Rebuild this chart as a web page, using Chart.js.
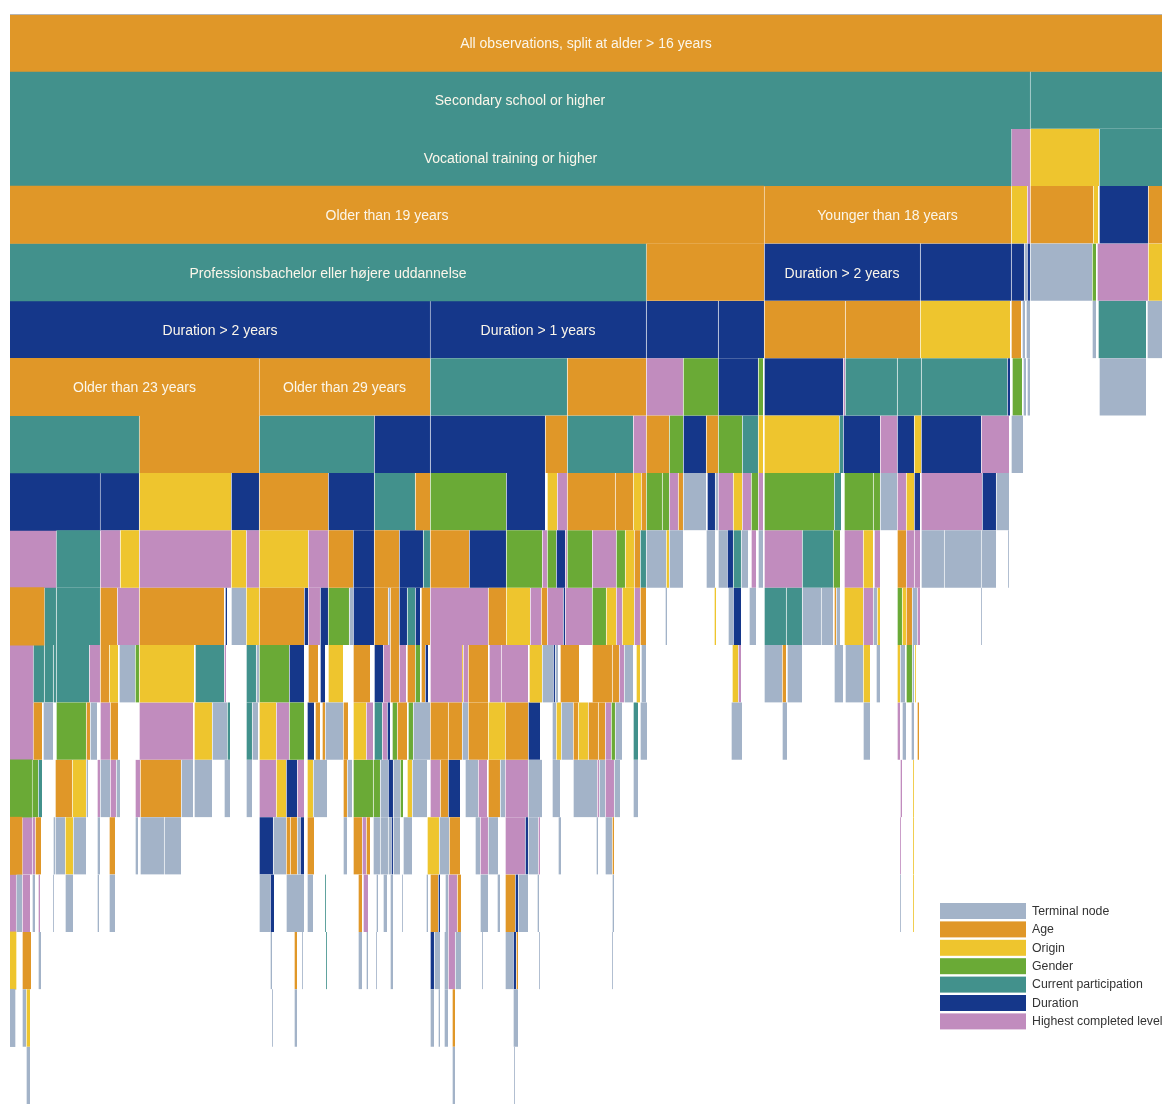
<!DOCTYPE html>
<html>
<head>
<meta charset="utf-8">
<title>Decision tree icicle</title>
<script src="https://cdn.jsdelivr.net/npm/chart.js@4/dist/chart.umd.min.js"></script>
<style>
  html, body { margin: 0; padding: 0; background: #ffffff; }
  #wrap { position: relative; width: 1163px; height: 1104px; }
</style>
</head>
<body>
<div id="wrap"><canvas id="treeChart"></canvas></div>
<script>
// Node types (split variable) and their colours, in legend order.
var typeCodes = ["T", "A", "O", "G", "C", "D", "H"];
var typeNames = ["Terminal node", "Age", "Origin", "Gender", "Current participation", "Duration", "Highest completed level"];
var typeColors = ["#a3b3c8", "#e09728", "#eec52e", "#6aaa36", "#42918c", "#15378a", "#c18cbe"];

// Total number of observations on the x axis (share of the sample, width of the root node).
var totalObs = 1152;

// One list per depth of the tree: [from, to, type, label].
var level0 = [[0, 1152, "A", "All observations, split at alder > 16 years"]];
var level1 = [[0, 1020, "C", "Secondary school or higher"], [1020, 1152, "C"]];
var level2 = [[0, 1001, "C", "Vocational training or higher"], [1001, 1020, "H"], [1020, 1089, "O"], [1089, 1152, "C"]];
var level3 = [[0, 754, "A", "Older than 19 years"], [754, 1001, "A", "Younger than 18 years"], [1001, 1017, "O"], [1017, 1020, "H"],
  [1020, 1083, "A"], [1083, 1088, "O"], [1089, 1138, "D"], [1138, 1152, "A"]];
var level4 = [[0, 636, "C", "Professionsbachelor eller højere uddannelse"], [636, 754, "A"], [754, 910, "D", "Duration > 2 years"],
  [910, 1001, "D"], [1001, 1014, "D"], [1014, 1017, "T"], [1017, 1020, "D"], [1020, 1082, "T"], [1082, 1086, "G"],
  [1087, 1138, "H"], [1138, 1152, "O"]];
var level5 = [[0, 420, "D", "Duration > 2 years"], [420, 636, "D", "Duration > 1 years"], [636, 708, "D"], [708, 754, "D"],
  [754, 835, "A"], [835, 910, "A"], [910, 1000, "O"], [1001, 1011, "A"], [1012, 1015, "T"], [1016, 1020, "T"],
  [1082, 1086, "T"], [1088, 1136, "C"], [1137, 1152, "T"]];
var level6 = [[0, 249, "A", "Older than 23 years"], [249, 420, "A", "Older than 29 years"], [420, 557, "C"], [557, 636, "A"],
  [636, 673, "H"], [673, 708, "G"], [708, 748, "D"], [748, 753, "G"], [754, 833, "D"], [833, 835, "H"], [835, 887, "C"],
  [887, 911, "C"], [911, 997, "C"], [997, 1000, "D"], [1002, 1012, "G"], [1013, 1016, "T"], [1017, 1020, "T"], [1089, 1136, "T"]];
var level7 = [[0, 129, "C"], [129, 249, "A"], [249, 364, "C"], [364, 420, "D"], [420, 535, "D"], [535, 557, "A"], [557, 623, "C"],
  [623, 636, "H"], [636, 659, "A"], [659, 673, "G"], [673, 696, "D"], [696, 708, "A"], [708, 732, "G"], [732, 748, "C"],
  [748, 753, "O"], [754, 829, "O"], [829, 833, "C"], [833, 870, "D"], [870, 887, "H"], [887, 904, "D"], [904, 911, "O"],
  [911, 971, "D"], [971, 999, "H"], [1001, 1013, "T"]];
var level8 = [[0, 90, "D"], [90, 129, "D"], [129, 221, "O"], [221, 249, "D"], [249, 318, "A"], [318, 364, "D"], [364, 405, "C"],
  [405, 420, "A"], [420, 496, "G"], [496, 535, "D"], [537, 547, "O"], [547, 557, "H"], [557, 605, "A"], [605, 623, "A"],
  [623, 631, "O"], [631, 636, "A"], [636, 652, "G"], [652, 659, "G"], [659, 668, "H"], [668, 673, "A"], [673, 696, "T"],
  [697, 705, "D"], [705, 708, "T"], [708, 723, "H"], [723, 732, "O"], [732, 741, "H"], [741, 748, "G"], [748, 753, "H"],
  [754, 824, "G"], [824, 831, "C"], [834, 863, "G"], [863, 870, "G"], [870, 887, "T"], [887, 896, "H"], [896, 904, "O"],
  [904, 910, "D"], [911, 972, "H"], [972, 986, "D"], [986, 999, "T"]];
var level9 = [[0, 46, "H"], [46, 90, "C"], [90, 110, "H"], [110, 129, "O"], [129, 221, "H"], [221, 236, "O"], [236, 249, "H"],
  [249, 298, "O"], [298, 318, "H"], [318, 343, "A"], [343, 364, "D"], [364, 389, "A"], [389, 413, "D"], [413, 420, "C"],
  [420, 459, "A"], [459, 496, "D"], [496, 532, "G"], [532, 537, "H"], [537, 546, "G"], [546, 555, "D"], [555, 557, "H"],
  [557, 582, "G"], [582, 606, "H"], [606, 615, "G"], [615, 624, "O"], [624, 630, "A"], [630, 636, "C"], [636, 656, "T"],
  [656, 659, "O"], [659, 673, "T"], [696, 705, "T"], [708, 717, "T"], [717, 723, "D"], [723, 731, "C"], [731, 738, "T"],
  [741, 746, "H"], [748, 753, "T"], [754, 792, "H"], [792, 823, "C"], [823, 830, "G"], [834, 853, "H"], [853, 863, "O"],
  [864, 870, "H"], [887, 896, "A"], [896, 904, "H"], [904, 910, "H"], [911, 934, "T"], [934, 971, "T"], [971, 986, "T"],
  [998, 999, "T"]];
var level10 = [[0, 34, "A"], [34, 46, "C"], [46, 90, "C"], [90, 107, "A"], [107, 129, "H"], [129, 214, "A"], [215, 217, "D"],
  [221, 236, "T"], [236, 249, "O"], [249, 294, "A"], [294, 298, "D"], [298, 310, "H"], [310, 318, "D"], [318, 339, "G"],
  [339, 343, "T"], [343, 364, "D"], [364, 378, "A"], [378, 380, "T"], [380, 389, "A"], [389, 397, "D"], [397, 405, "C"],
  [405, 410, "D"], [411, 420, "A"], [420, 478, "H"], [478, 496, "A"], [496, 520, "O"], [520, 531, "H"], [531, 537, "A"],
  [537, 553, "H"], [553, 555, "D"], [555, 582, "H"], [582, 596, "G"], [596, 606, "O"], [606, 612, "H"], [612, 624, "O"],
  [624, 630, "H"], [630, 636, "A"], [655, 657, "T"], [704, 706, "O"], [718, 723, "T"], [723, 731, "D"], [739, 746, "T"],
  [754, 776, "C"], [776, 792, "C"], [792, 811, "T"], [811, 823, "T"], [824, 826, "A"], [826, 830, "T"], [834, 853, "O"],
  [853, 863, "H"], [863, 867, "T"], [867, 870, "O"], [887, 892, "G"], [892, 896, "O"], [896, 902, "A"], [902, 907, "T"],
  [907, 910, "H"], [971, 972, "T"]];
var level11 = [[0, 23, "H"], [23, 34, "C"], [34, 43, "C"], [43, 46, "C"], [46, 79, "C"], [79, 90, "H"], [90, 99, "A"],
  [99, 108, "O"], [109, 125, "T"], [125, 129, "G"], [129, 184, "O"], [185, 214, "C"], [214, 216, "H"], [236, 246, "C"],
  [246, 249, "T"], [249, 279, "G"], [279, 294, "D"], [298, 308, "A"], [310, 315, "D"], [318, 333, "O"], [343, 360, "A"],
  [364, 373, "D"], [373, 380, "H"], [380, 389, "A"], [389, 396, "H"], [397, 405, "A"], [405, 410, "G"], [411, 415, "A"],
  [415, 418, "D"], [420, 452, "H"], [452, 453, "O"], [453, 458, "H"], [458, 478, "A"], [479, 491, "H"], [491, 518, "H"],
  [519, 532, "O"], [532, 543, "T"], [543, 545, "D"], [545, 548, "T"], [550, 569, "A"], [582, 602, "A"], [602, 609, "A"],
  [609, 614, "H"], [614, 623, "T"], [626, 630, "O"], [631, 636, "T"], [722, 728, "O"], [728, 731, "H"], [754, 772, "T"],
  [772, 776, "A"], [777, 792, "T"], [824, 833, "T"], [835, 853, "T"], [853, 860, "O"], [866, 870, "T"], [887, 890, "O"],
  [890, 895, "T"], [896, 902, "G"], [902, 904, "T"], [905, 906, "O"]];
var level12 = [[0, 23, "H"], [23, 32, "A"], [33, 43, "T"], [46, 76, "G"], [76, 80, "A"], [80, 87, "T"], [90, 100, "H"],
  [100, 108, "A"], [129, 183, "H"], [184, 202, "O"], [202, 217, "T"], [217, 220, "C"], [236, 242, "C"], [242, 248, "T"],
  [249, 266, "O"], [266, 279, "H"], [279, 294, "G"], [297, 304, "D"], [305, 310, "A"], [312, 315, "A"], [315, 333, "T"],
  [333, 338, "A"], [343, 356, "O"], [356, 363, "H"], [364, 372, "C"], [372, 377, "H"], [377, 380, "D"], [382, 387, "G"],
  [387, 397, "A"], [398, 403, "G"], [403, 420, "T"], [420, 438, "A"], [438, 452, "A"], [452, 458, "T"], [458, 478, "A"],
  [478, 495, "O"], [495, 518, "A"], [518, 530, "D"], [542, 546, "T"], [546, 551, "O"], [551, 563, "T"], [563, 568, "A"],
  [568, 578, "O"], [578, 588, "A"], [588, 595, "A"], [595, 601, "H"], [601, 605, "G"], [605, 612, "T"], [623, 628, "C"],
  [630, 637, "T"], [721, 732, "T"], [772, 777, "T"], [853, 860, "T"], [887, 890, "H"], [892, 896, "T"], [901, 904, "T"],
  [907, 909, "A"]];
var level13 = [[0, 22, "G"], [22, 28, "G"], [28, 32, "C"], [45, 62, "A"], [62, 76, "O"], [76, 78, "T"], [87, 90, "H"],
  [90, 100, "T"], [100, 106, "H"], [106, 110, "T"], [125, 130, "H"], [130, 171, "A"], [171, 183, "T"], [184, 202, "T"],
  [214, 220, "T"], [236, 242, "T"], [249, 266, "H"], [266, 276, "O"], [276, 287, "D"], [287, 294, "H"], [297, 303, "O"],
  [303, 317, "T"], [333, 337, "A"], [337, 342, "T"], [343, 363, "G"], [363, 370, "G"], [370, 378, "T"], [378, 383, "D"],
  [383, 390, "T"], [390, 393, "G"], [397, 402, "O"], [402, 417, "T"], [420, 430, "H"], [430, 438, "A"], [438, 450, "D"],
  [455, 468, "T"], [468, 477, "H"], [478, 490, "A"], [490, 495, "T"], [495, 518, "H"], [518, 532, "T"], [542, 550, "T"],
  [563, 587, "T"], [587, 589, "H"], [589, 595, "T"], [595, 604, "H"], [604, 610, "T"], [623, 628, "T"], [890, 892, "H"],
  [903, 904, "O"]];
var level14 = [[0, 12, "A"], [12, 22, "H"], [22, 25, "H"], [25, 31, "A"], [43, 45, "T"], [45, 55, "T"], [55, 63, "O"],
  [63, 76, "T"], [87, 90, "T"], [99, 105, "A"], [125, 128, "T"], [130, 154, "T"], [154, 171, "T"], [249, 263, "D"],
  [263, 276, "T"], [276, 280, "A"], [280, 287, "A"], [287, 290, "T"], [290, 294, "D"], [297, 304, "A"], [333, 337, "T"],
  [343, 352, "A"], [352, 356, "H"], [356, 360, "A"], [363, 370, "T"], [370, 378, "T"], [378, 381, "T"], [381, 383, "D"],
  [383, 390, "T"], [393, 402, "T"], [417, 429, "O"], [429, 439, "T"], [439, 450, "A"], [465, 470, "T"], [470, 478, "H"],
  [478, 488, "T"], [495, 515, "H"], [515, 518, "D"], [518, 528, "T"], [528, 530, "H"], [548, 551, "T"], [586, 588, "T"],
  [595, 602, "T"], [602, 604, "A"], [890, 891, "H"], [903, 904, "O"]];
var level15 = [[0, 6, "H"], [6, 12, "T"], [12, 20, "H"], [22, 25, "T"], [28, 30, "H"], [43, 44, "T"], [55, 63, "T"],
  [87, 89, "T"], [99, 105, "T"], [249, 260, "T"], [260, 264, "D"], [276, 294, "T"], [297, 303, "T"], [315, 316, "C"],
  [348, 352, "A"], [353, 358, "H"], [366, 368, "T"], [373, 377, "T"], [380, 383, "T"], [392, 393, "T"], [416, 418, "T"],
  [420, 428, "A"], [428, 430, "D"], [435, 438, "T"], [438, 447, "H"], [447, 451, "A"], [470, 478, "T"], [487, 490, "T"],
  [495, 505, "A"], [505, 508, "D"], [508, 518, "T"], [527, 529, "T"], [602, 604, "T"], [890, 891, "T"], [903, 904, "O"]];
var level16 = [[0, 6, "O"], [12, 21, "A"], [28, 31, "T"], [260, 262, "T"], [284, 287, "A"], [292, 293, "T"], [316, 317, "C"],
  [348, 352, "T"], [356, 358, "T"], [366, 367, "T"], [380, 383, "T"], [420, 424, "D"], [424, 430, "T"], [434, 438, "T"],
  [438, 445, "H"], [445, 451, "T"], [472, 473, "T"], [495, 503, "T"], [503, 506, "D"], [506, 508, "A"], [529, 530, "T"],
  [602, 603, "T"]];
var level17 = [[0, 5, "T"], [12, 16, "T"], [16, 20, "O"], [262, 263, "T"], [284, 287, "T"], [420, 424, "T"], [428, 430, "T"],
  [434, 438, "T"], [442, 445, "A"], [503, 508, "T"]];
var level18 = [[16, 20, "T"], [442, 445, "T"], [504, 505, "T"]];

var levels = [level0, level1, level2, level3, level4, level5, level6, level7, level8, level9,
  level10, level11, level12, level13, level14, level15, level16, level17, level18];
var levelLabels = levels.map(function (lvl, i) { return "Depth " + i; });

// Build one floating-bar dataset per node type.
var datasets = typeCodes.map(function (code, t) {
  var points = [];
  levels.forEach(function (lvl, i) {
    lvl.forEach(function (seg) {
      if (seg[2] == code) {
        points.push({ y: levelLabels[i], x: [seg[0], seg[1]] });
      }
    });
  });
  return {
    label: typeNames[t],
    data: points,
    backgroundColor: typeColors[t],
    borderColor: "rgba(255,255,255,0.25)",
    // only a faint separator on the left edge, skipped for nodes that start at the very left
    borderWidth: function (ctx) {
      var raw = ctx.raw;
      var left = raw && raw.x[0] > 0 ? 1 : 0;
      return { left: left, right: 0, top: 0, bottom: 0 };
    },
    borderSkipped: false,
    barPercentage: 1,
    categoryPercentage: 1,
    grouped: false
  };
});

// Labels written inside the nodes.
var nodeLabels = [];
levels.forEach(function (lvl, i) {
  lvl.forEach(function (seg) {
    if (seg[3]) nodeLabels.push({ level: levelLabels[i], from: seg[0], to: seg[1], text: seg[3] });
  });
});

// Draws node texts, the thin top rule and the legend box in the lower right corner.
var treeTextPlugin = {
  id: "treeText",
  afterDatasetsDraw: function (chart) {
    var ctx = chart.ctx;
    var xs = chart.scales.x;
    var ys = chart.scales.y;
    var area = chart.chartArea;
    ctx.save();

    ctx.fillStyle = "#b5b5b5";
    ctx.fillRect(area.left, area.top, area.right - area.left, 1);

    ctx.font = "14px 'Liberation Sans', Arial, sans-serif";
    ctx.fillStyle = "#fbf6ea";
    ctx.textAlign = "center";
    ctx.textBaseline = "middle";
    nodeLabels.forEach(function (lb) {
      var x = xs.getPixelForValue((lb.from + lb.to) / 2);
      var y = ys.getPixelForValue(levelLabels.indexOf(lb.level));
      ctx.fillText(lb.text, x, y + 1.5);
    });

    // legend
    var lx = 940, ly = 903, rowH = 18.4;
    ctx.font = "12.3px 'Liberation Sans', Arial, sans-serif";
    ctx.textAlign = "left";
    typeNames.forEach(function (name, t) {
      ctx.fillStyle = typeColors[t];
      ctx.fillRect(lx, ly + t * rowH, 86, 16);
      ctx.fillStyle = "#333333";
      ctx.fillText(name, lx + 92, ly + t * rowH + 8.5);
    });
    ctx.restore();
  }
};

var treeChart = new Chart(document.getElementById("treeChart"), {
  type: "bar",
  data: { labels: levelLabels, datasets: datasets },
  options: {
    indexAxis: "y",
    responsive: true,
    maintainAspectRatio: false,
    animation: false,
    layout: { padding: { left: 10, right: 1, top: 14, bottom: 0 } },
    scales: {
      x: { type: "linear", min: 0, max: totalObs, display: false },
      y: { type: "category", display: false, offset: true }
    },
    plugins: {
      legend: { display: false },
      tooltip: { enabled: true }
    }
  },
  plugins: [treeTextPlugin]
});
</script>
</body>
</html>
